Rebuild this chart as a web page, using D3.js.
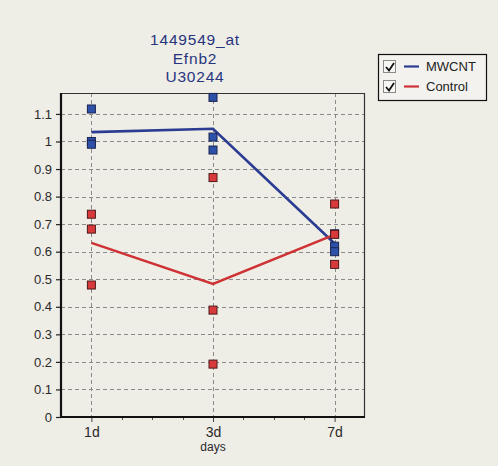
<!DOCTYPE html>
<html>
<head>
<meta charset="utf-8">
<script src="https://cdn.jsdelivr.net/npm/d3@7"></script>
<style>
  html, body { margin: 0; padding: 0; background: #eeede6; }
  svg { display: block; font-family: "Liberation Sans", Arial, sans-serif; }
</style>
</head>
<body>
<svg id="chart" width="498" height="466"></svg>
<script>
// values
const days = ["1d", "3d", "7d"];
const titleLines = ["1449549_at", "Efnb2", "U30244"];
const yTicks = [0, 0.1, 0.2, 0.3, 0.4, 0.5, 0.6, 0.7, 0.8, 0.9, 1, 1.1];
const mwcntPoints = [[1.118, 1.0, 0.99], [1.16, 1.016, 0.969], [0.665, 0.62, 0.60]];
const controlPoints = [[0.736, 0.682, 0.479], [0.869, 0.388, 0.192], [0.773, 0.663, 0.554]];
const mwcntLine = [1.034, 1.046, 0.63];
const controlLine = [0.632, 0.483, 0.662];
const legendNames = ["MWCNT", "Control"];

(function () {
  "use strict";
  const svg = d3.select("#chart");
  const left = 61, right = 365, top = 93, bottom = 417;
  const blue = "#2b3c92", red = "#cf3234";

  const x = d3.scalePoint().domain(days).range([left, right]).padding(0.25);
  const y = d3.scaleLinear().domain([0, 1.176]).range([bottom, top]);

  // title
  svg.append("g").selectAll("text").data(titleLines).join("text")
    .attr("x", 195).attr("y", (d, i) => 45 + i * 18.5)
    .attr("text-anchor", "middle")
    .attr("font-size", 15.5).attr("letter-spacing", 0.8)
    .attr("fill", "#28357e")
    .text((d) => d);

  // grid
  const grid = svg.append("g").attr("stroke", "#8a8a8a").attr("stroke-dasharray", "4,3").attr("stroke-width", 1);
  grid.selectAll("line.h").data(yTicks.filter((d) => d > 0)).join("line")
    .attr("x1", left).attr("x2", right)
    .attr("y1", (d) => Math.round(y(d)) + 0.5).attr("y2", (d) => Math.round(y(d)) + 0.5);
  grid.selectAll("line.v").data(days).join("line")
    .attr("y1", top).attr("y2", bottom)
    .attr("x1", (d) => Math.round(x(d)) + 0.5).attr("x2", (d) => Math.round(x(d)) + 0.5);

  // frame: thin top/right, thick left/bottom axes
  svg.append("path")
    .attr("d", `M${left},${top + 0.5}H${right - 0.5}V${bottom}`)
    .attr("fill", "none").attr("stroke", "#333").attr("stroke-width", 1.2);

  // y axis
  const yAxis = svg.append("g").attr("transform", `translate(${left},0)`)
    .call(d3.axisLeft(y).tickValues(yTicks).tickFormat(d3.format("~g")).tickSize(5).tickPadding(4));
  yAxis.select(".domain").remove();
  yAxis.selectAll(".tick line").attr("stroke", "#222").attr("stroke-width", 1.2);
  yAxis.selectAll(".tick text").attr("font-size", 13).attr("fill", "#2a2a2a")
    .attr("font-family", "'Liberation Sans', Arial, sans-serif");

  // x axis
  const xAxis = svg.append("g").attr("transform", `translate(0,${bottom})`)
    .call(d3.axisBottom(x).tickSize(5).tickPadding(5));
  xAxis.select(".domain").remove();
  xAxis.selectAll(".tick line").attr("stroke", "#444");
  xAxis.selectAll(".tick text").attr("font-size", 14).attr("fill", "#2a2a2a")
    .attr("font-family", "'Liberation Sans', Arial, sans-serif");

  // minor ticks between categories
  const minors = [];
  for (let i = 0; i < days.length - 1; i++) {
    const a = x(days[i]), b = x(days[i + 1]);
    for (let k = 1; k < 4; k++) minors.push(a + (b - a) * k / 4);
  }
  svg.append("g").selectAll("line").data(minors).join("line")
    .attr("x1", (d) => Math.round(d) + 0.5).attr("x2", (d) => Math.round(d) + 0.5)
    .attr("y1", bottom).attr("y2", bottom + 3)
    .attr("stroke", "#555");

  svg.append("path")
    .attr("d", `M${left},${top}V${bottom}H${right}`)
    .attr("fill", "none").attr("stroke", "#111").attr("stroke-width", 2.2);

  svg.append("text").attr("x", x("3d")).attr("y", 451)
    .attr("text-anchor", "middle").attr("font-size", 12).attr("fill", "#2a2a2a")
    .text("days");

  // mean lines
  const line = d3.line().x((d, i) => x(days[i])).y((d) => y(d));
  svg.append("path").attr("d", line(mwcntLine))
    .attr("fill", "none").attr("stroke", blue).attr("stroke-width", 2.6);
  svg.append("path").attr("d", line(controlLine))
    .attr("fill", "none").attr("stroke", red).attr("stroke-width", 2.6);

  // replicate points
  function squares(data, fill, edge) {
    const flat = data.flatMap((vals, i) => vals.map((v) => ({ day: days[i], v })));
    svg.append("g").selectAll("rect").data(flat).join("rect")
      .attr("x", (d) => x(d.day) - 4).attr("y", (d) => y(d.v) - 4)
      .attr("width", 8).attr("height", 8)
      .attr("fill", fill).attr("stroke", edge).attr("stroke-width", 1);
  }
  squares(mwcntPoints, "#2d50a8", "#1b2550");
  squares(controlPoints, "#d83a3c", "#4e1a1a");

  // legend
  const lg = svg.append("g").attr("transform", "translate(378,54)");
  lg.append("rect").attr("x", 0.5).attr("y", 0.5).attr("width", 108).attr("height", 46)
    .attr("fill", "#f3f2ee").attr("stroke", "#111").attr("stroke-width", 1.2);
  const items = lg.selectAll("g.item").data(legendNames).join("g")
    .attr("transform", (d, i) => `translate(0,${12 + i * 20})`);
  items.append("rect").attr("x", 5.5).attr("y", -5.5).attr("width", 12).attr("height", 12)
    .attr("fill", "#f6f6f2").attr("stroke", "#8a8a8a");
  items.append("path").attr("d", "M8,1 L11,4.5 L16,-3")
    .attr("fill", "none").attr("stroke", "#111").attr("stroke-width", 1.8);
  items.append("line").attr("x1", 26).attr("x2", 41).attr("y1", 0.5).attr("y2", 0.5)
    .attr("stroke", (d, i) => (i === 0 ? blue : red)).attr("stroke-width", 2.2);
  items.append("text").attr("x", 48).attr("y", 5).attr("font-size", 13).attr("fill", "#222")
    .text((d) => d);
})();
</script>
</body>
</html>
